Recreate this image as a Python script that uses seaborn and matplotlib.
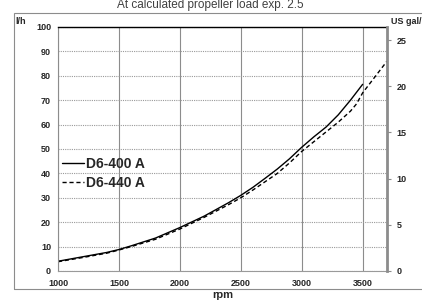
import matplotlib
matplotlib.use("Agg")
import matplotlib.pyplot as plt
import seaborn as sns
import pandas as pd
from matplotlib.patches import Rectangle

# fuel consumption, l/h
rpm_400 = [1000, 1200, 1400, 1500, 1600, 1800, 2000, 2200, 2400, 2500, 2600, 2700, 2800, 2900,
           3000, 3100, 3200, 3300, 3400, 3500]
lph_400 = [4.0, 5.8, 7.6, 8.8, 10.3, 13.5, 17.8, 22.5, 28.0, 31.0, 34.3, 38.0, 41.8, 46.0,
           50.7, 55.0, 59.0, 64.0, 70.0, 76.5]
rpm_440 = [1000, 1200, 1400, 1500, 1600, 1800, 2000, 2200, 2400, 2500, 2600, 2700, 2800, 2900,
           3000, 3100, 3200, 3300, 3400, 3450, 3500, 3600, 3700]
lph_440 = [3.8, 5.5, 7.3, 8.6, 10.0, 13.0, 17.2, 22.0, 27.2, 30.0, 33.2, 36.6, 40.0, 44.3,
           49.0, 53.0, 57.0, 61.0, 65.5, 68.5, 73.0, 79.5, 86.0]
names = ["D6-400 A", "D6-440 A"]
title = "At calculated propeller load exp. 2.5"
LPH_PER_GAL = 3.785

df = pd.concat([
    pd.DataFrame({"rpm": rpm_400, "lph": lph_400, "engine": names[0]}),
    pd.DataFrame({"rpm": rpm_440, "lph": lph_440, "engine": names[1]}),
])

sns.set_style("white")
plt.rcParams["font.family"] = ["Liberation Sans", "DejaVu Sans"]

fig = plt.figure(figsize=(4.22, 3.0), dpi=100)
ax = fig.add_axes([58 / 422, 1 - 271 / 300, 329 / 422, 244 / 300])

sns.lineplot(data=df, x="rpm", y="lph", style="engine", color="black",
             dashes={names[0]: "", names[1]: (3, 2)}, linewidth=1.0, ax=ax,
             sort=False)

ax.set_xlim(1000, 3700)
ax.set_ylim(0, 100)
ax.set_xticks(range(1000, 3501, 500))
ax.set_yticks(range(0, 101, 10))
ax.grid(axis="y", color="#9a9a9a", linestyle=(0, (1, 1)), linewidth=0.8)
ax.grid(axis="x", color="#8c8c8c", linestyle="-", linewidth=0.8)
ax.set_axisbelow(True)
for lbl in ax.get_xticklabels() + ax.get_yticklabels():
    lbl.set_fontweight("bold")
ax.tick_params(axis="both", labelsize=6.5, length=0, pad=5)
ax.tick_params(axis="x", pad=6)
ax.set_xlabel("rpm", fontsize=8, fontweight="bold", labelpad=1)
ax.set_ylabel("")

ax.spines["top"].set_color("black")
ax.spines["top"].set_linewidth(1.0)
ax.spines["left"].set_color("#8c8c8c")
ax.spines["left"].set_linewidth(0.8)
ax.spines["bottom"].set_color("#9a9a9a")
ax.spines["bottom"].set_linewidth(0.8)
ax.spines["right"].set_visible(False)

ax2 = ax.twinx()
ax2.set_ylim(0, 100 / LPH_PER_GAL)
ax2.set_yticks(range(0, 26, 5))
for lbl in ax2.get_yticklabels():
    lbl.set_fontweight("bold")
ax2.tick_params(axis="y", labelsize=6.5, length=3, width=0.8, color="#8c8c8c", pad=4)
for s in ["top", "left", "bottom"]:
    ax2.spines[s].set_visible(False)
ax2.spines["right"].set_color("#8c8c8c")
ax2.spines["right"].set_linewidth(2.0)

leg = ax.legend(loc="center left", bbox_to_anchor=(0.012, 0.40), frameon=False,
                fontsize=10, handlelength=1.6, handletextpad=0.15,
                labelspacing=0.35, borderpad=0, borderaxespad=0)
for t in leg.get_texts():
    t.set_fontweight("bold")

fig.text(210 / 422, 1 - 5 / 300, title, ha="center", va="center",
         fontsize=8.5, color="#404040")
fig.text(15 / 422, 1 - 22 / 300, "l/h", ha="left", va="center",
         fontsize=6.5, fontweight="bold")
fig.text(391 / 422, 1 - 22 / 300, "US gal/h", ha="left", va="center",
         fontsize=6.5, fontweight="bold")

fig.add_artist(Rectangle((14 / 422, 1 - 289 / 300), 420 / 422, 276 / 300,
                         transform=fig.transFigure, fill=False,
                         edgecolor="#8c8c8c", linewidth=0.8))

fig.savefig("out.png", dpi=100)
